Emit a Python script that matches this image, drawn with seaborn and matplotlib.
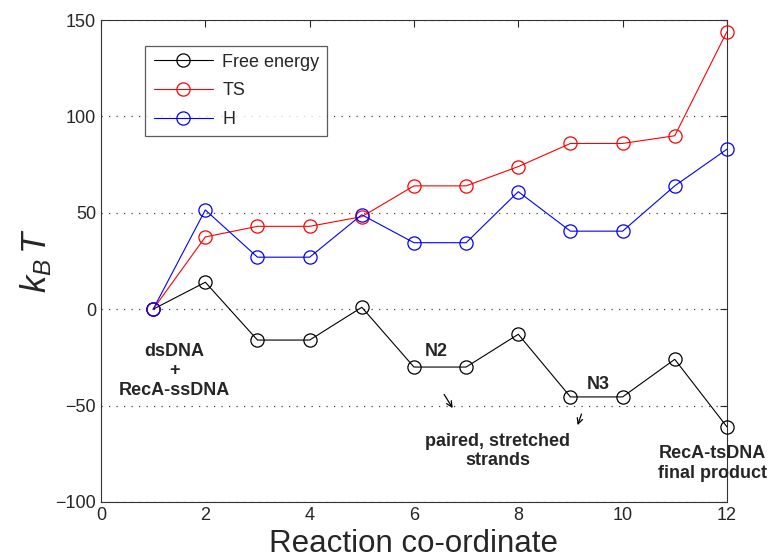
import matplotlib
matplotlib.use("Agg")
import matplotlib.pyplot as plt
import seaborn as sns
import pandas as pd

sns.set_style("white")
plt.rcParams['font.family'] = ['Liberation Sans', 'DejaVu Sans']
plt.rcParams['mathtext.fontset'] = 'custom'
plt.rcParams['mathtext.it'] = 'Liberation Sans:italic'
plt.rcParams['mathtext.rm'] = 'Liberation Sans'

# reaction coordinate and energies (kBT)
coord = [1, 2, 3, 4, 5, 6, 7, 8, 9, 10, 11, 12]
free_energy = [0, 14, -16, -16, 1, -30, -30, -13, -45.5, -45.5, -26, -61]
ts = [0, 37.5, 43, 43, 48, 64, 64, 74, 86, 86, 90, 144]
h = [0, 51.5, 27, 27, 49, 34.5, 34.5, 61, 40.5, 40.5, 64, 83]

series = ['Free energy', 'TS', 'H']
colors = ['#000000', '#ff0000', '#0000ff']

df = pd.DataFrame({'coord': coord, 'Free energy': free_energy, 'TS': ts, 'H': h})

fig = plt.figure(figsize=(7.68, 5.58), dpi=100)
ax = fig.add_axes([0.1315, 0.1004, 0.815, 0.8636])

for name, col in zip(series, colors):
    sns.lineplot(data=df, x='coord', y=name, ax=ax, color=col, label=name,
                 marker='o', markersize=9.5, markerfacecolor='none',
                 markeredgecolor=col, markeredgewidth=0.9, linewidth=0.8,
                 clip_on=False, zorder=3)

ax.set_xlim(0, 12)
ax.set_ylim(-100, 150)
ax.set_xticks(range(0, 13, 2))
ax.set_yticks(range(-100, 151, 50))
ax.yaxis.grid(True, linestyle=(0, (1, 5)), color='#444444', linewidth=0.9)
ax.tick_params(direction='in', top=True, right=True, labelsize=13, length=5)
for sp in ax.spines.values():
    sp.set_color('#333333')
    sp.set_linewidth(0.8)

ax.set_xlabel('Reaction co-ordinate', fontsize=22.5, labelpad=4)
ax.set_ylabel(r'$k_B\,T$', fontsize=25, labelpad=1)

leg = ax.legend(loc='upper left', bbox_to_anchor=(0.071, 0.947), fontsize=13,
                frameon=True, fancybox=False, edgecolor='#333333',
                handlelength=3.3, handletextpad=0.5, borderpad=0.45,
                labelspacing=0.65, borderaxespad=0)
leg.get_frame().set_linewidth(0.9)

# annotations
bold = dict(fontsize=13, fontweight='bold', ha='center', va='center')
ax.text(1.4, -32, 'dsDNA\n+\nRecA-ssDNA', linespacing=1.2, **bold)
ax.text(6.42, -22, 'N2', **bold)
ax.text(9.53, -39, 'N3', **bold)
ax.text(7.6, -73.5, 'paired, stretched\nstrands', linespacing=1.15, **bold)
ax.text(11.73, -80, 'RecA-tsDNA\nfinal product', linespacing=1.25, **bold)
ax.annotate('', xy=(6.77, -52.5), xytext=(6.55, -43),
            arrowprops=dict(arrowstyle='->', color='black', lw=0.9))
ax.annotate('', xy=(9.12, -61.5), xytext=(9.23, -53),
            arrowprops=dict(arrowstyle='->', color='black', lw=0.9))

fig.savefig('out.png', dpi=100)
